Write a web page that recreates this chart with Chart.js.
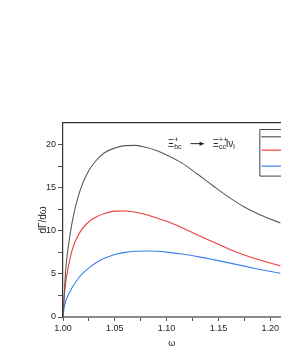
<!DOCTYPE html>
<html>
<head>
<meta charset="utf-8">
<script src="https://cdn.jsdelivr.net/npm/chart.js@4.4.1/dist/chart.umd.min.js"></script>
<style>
  html, body { margin: 0; padding: 0; background: #fff; overflow: hidden; }
  #wrap { width: 281px; height: 363px; }
</style>
</head>
<body>
<div id="wrap"><canvas id="myChart" width="281" height="363"></canvas></div>
<script>
// données
const omega = [1.000, 1.001, 1.0025, 1.0045, 1.007, 1.010, 1.014, 1.019, 1.025, 1.032, 1.040, 1.050, 1.060, 1.070, 1.080, 1.090, 1.100, 1.115, 1.130, 1.145, 1.160, 1.175, 1.190, 1.210];
const gray  = [0, 2.1, 5.3, 7.6, 9.7, 11.7, 13.7, 15.5, 17.0, 18.15, 19.05, 19.6, 19.88, 19.9, 19.68, 19.3, 18.8, 17.85, 16.55, 15.2, 13.9, 12.75, 11.85, 10.9];
const red   = [0, 2.2, 3.9, 5.4, 6.9, 8.2, 9.3, 10.3, 11.05, 11.6, 12.0, 12.28, 12.3, 12.15, 11.88, 11.5, 11.1, 10.35, 9.5, 8.7, 7.9, 7.2, 6.6, 5.93];
const blue  = [0, 1.0, 1.8, 2.4, 3.0, 3.65, 4.35, 5.05, 5.7, 6.3, 6.8, 7.25, 7.5, 7.62, 7.66, 7.62, 7.52, 7.3, 7.0, 6.65, 6.28, 5.9, 5.5, 5.08];
const xTicks = [1.00, 1.05, 1.10, 1.15, 1.20];
const yTicks = [0, 5, 10, 15, 20];

const pts = ys => omega.map((x, i) => ({ x: x, y: ys[i] }));

const FONT = '"Liberation Sans", Arial, sans-serif';

// titre de la réaction + boîte de légende (coupée à droite)
const extras = {
  id: 'extras',
  afterDatasetsDraw(chart) {
    const ctx = chart.ctx;
    const xs = chart.scales.x, ys = chart.scales.y;
    ctx.save();
    ctx.fillStyle = '#222';
    ctx.textBaseline = 'alphabetic';
    let x = xs.getPixelForValue(1.101);
    const base = ys.getPixelForValue(19.7);
    const big = '10px ' + FONT, small = '7px ' + FONT;
    const put = (t, f, dy) => { ctx.font = f; ctx.fillText(t, x, base + dy); x += ctx.measureText(t).width; };
    put('Ξ', big, 0);
    const x0 = x;
    put('+', small, -5);
    x = x0;
    put('bc', small, 2);
    // flèche
    const ax = x + 9, bx = x + 23;
    ctx.strokeStyle = '#222';
    ctx.lineWidth = 1;
    ctx.beginPath(); ctx.moveTo(ax, base - 3.5); ctx.lineTo(bx - 3, base - 3.5); ctx.stroke();
    ctx.beginPath(); ctx.moveTo(bx, base - 3.5); ctx.lineTo(bx - 5, base - 5.5); ctx.lineTo(bx - 5, base - 1.5); ctx.closePath(); ctx.fill();
    x = bx + 8;
    put('Ξ', big, 0);
    const x1 = x;
    put('++', small, -5);
    x = x1;
    put('cc', small, 2);
    put('l', big, 0);
    put('ν', big, 0);
    put('l', small, 2);

    // boîte de légende
    const lx = xs.getPixelForValue(1.1895);
    const ty = ys.getPixelForValue(21.8), by = ys.getPixelForValue(16.4);
    ctx.strokeStyle = '#444';
    ctx.lineWidth = 1;
    ctx.beginPath();
    ctx.moveTo(chart.width + 2, ty + 0.5);
    ctx.lineTo(lx + 0.5, ty + 0.5);
    ctx.lineTo(lx + 0.5, by + 0.5);
    ctx.lineTo(chart.width + 2, by + 0.5);
    ctx.stroke();
    const rows = [20.9, 19.35, 17.5];
    chart.data.datasets.forEach((ds, i) => {
      const yy = ys.getPixelForValue(rows[i]);
      ctx.strokeStyle = ds.borderColor;
      ctx.lineWidth = 1.2;
      ctx.beginPath(); ctx.moveTo(lx + 2, yy); ctx.lineTo(chart.width, yy); ctx.stroke();
    });
    ctx.restore();
  }
};

new Chart(document.getElementById('myChart'), {
  type: 'scatter',
  data: {
    datasets: [
      { label: 'a', data: pts(gray), borderColor: '#5a5a5a' },
      { label: 'b', data: pts(red),  borderColor: '#f03c3c' },
      { label: 'c', data: pts(blue), borderColor: '#3a80ee' }
    ].map(d => Object.assign(d, {
      showLine: true, pointRadius: 0, borderWidth: 1.1, fill: false,
      cubicInterpolationMode: 'monotone'
    }))
  },
  options: {
    responsive: false,
    animation: false,
    layout: { padding: { top: 123, left: 30, right: 0, bottom: 0 } },
    plugins: { legend: { display: false }, tooltip: { enabled: false } },
    scales: {
      x: {
        type: 'linear', position: 'bottom', min: 1.0, max: 1.21,
        afterBuildTicks: s => { s.ticks = [1.0, 1.025, 1.05, 1.075, 1.1, 1.125, 1.15, 1.175, 1.2].map(v => ({ value: v })); },
        afterFit: s => { s.height = 46; },
        grid: { display: true, drawOnChartArea: false, tickLength: 4, tickColor: '#555' },
        border: { color: '#8a8a8a', width: 2 },
        ticks: {
          color: '#222', font: { family: FONT, size: 9 }, padding: 2, maxRotation: 0, autoSkip: false,
          callback: v => xTicks.some(t => Math.abs(t - v) < 1e-6) ? v.toFixed(2) : ''
        },
        title: { display: true, text: 'ω', color: '#222', font: { family: FONT, size: 9 }, padding: { top: 0, bottom: 14 } }
      },
      x2: {
        type: 'linear', position: 'top', min: 1.0, max: 1.21,
        afterFit: s => { s.height = 0; },
        grid: { display: false, drawTicks: false },
        border: { color: '#333', width: 1.2 },
        ticks: { display: false }
      },
      y: {
        min: 0, max: 22.5,
        afterBuildTicks: s => { s.ticks = [0, 2.5, 5, 7.5, 10, 12.5, 15, 17.5, 20].map(v => ({ value: v })); },
        afterFit: s => { s.width = 33; },
        grid: { display: true, drawOnChartArea: false, tickLength: 5, tickColor: '#555' },
        border: { color: '#333', width: 1.2 },
        ticks: {
          color: '#222', font: { family: FONT, size: 9 }, padding: 2, autoSkip: false,
          callback: v => yTicks.includes(v) ? String(v) : ''
        },
        title: { display: true, text: 'dΓ/dω', color: '#222', font: { family: FONT, size: 10 }, padding: { top: 7, bottom: 0 } }
      }
    }
  },
  plugins: [extras]
});
</script>
</body>
</html>
